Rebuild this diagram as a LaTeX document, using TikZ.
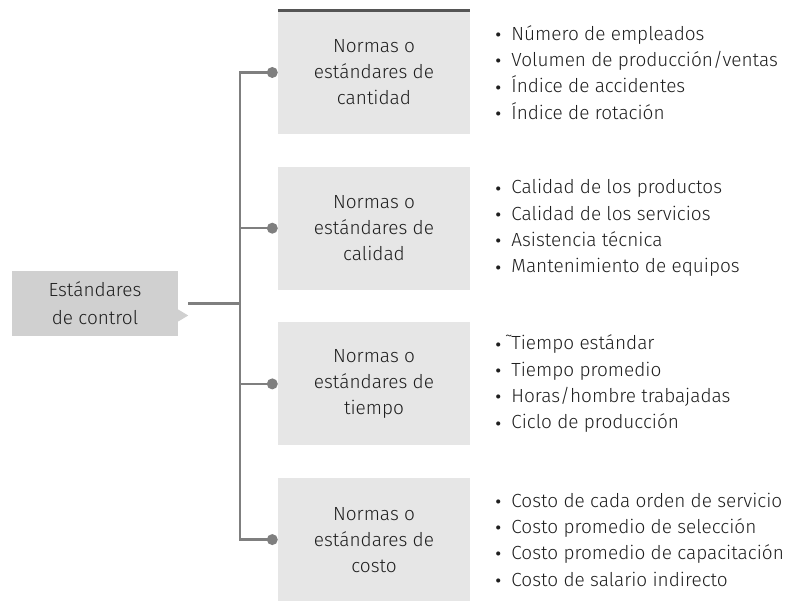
\documentclass[tikz,border=0pt]{standalone}
\usepackage{fontspec}
\setmainfont{Fira Sans Light}
\usetikzlibrary{positioning}
\definecolor{boxgray}{HTML}{E6E6E6}
\definecolor{maingray}{HTML}{D0D0D0}
\definecolor{linegray}{HTML}{7F7F7F}
\definecolor{topgray}{HTML}{555555}
\definecolor{textgray}{HTML}{1E1E1E}
\newcommand{\bul}{\smash{\raisebox{-0.42ex}{\scalebox{1.45}{•}}}}
\newcommand{\itm}[1]{\makebox[17pt][l]{\bul}#1}

\begin{document}
\begin{tikzpicture}[x=1pt,y=-1pt,
  every node/.style={text=textgray},
  normbox/.style={fill=boxgray,minimum width=192pt,minimum height=123pt,
    inner sep=0pt,align=center,font=\fontsize{19}{26}\selectfont},
  mainbox/.style={fill=maingray,minimum width=166pt,minimum height=65pt,
    inner sep=0pt,align=center,font=\fontsize{19}{28}\selectfont},
  itemlist/.style={anchor=west,inner sep=0pt,align=left,
    font=\fontsize{19}{26.3}\selectfont},
  conn/.style={linegray,line width=2.2pt},
  knob/.style={fill=linegray}]
  \useasboundingbox (0,0) rectangle (788,601);

  % main box with its small pointer
  \node[mainbox] (ctrl) at (95,303.5) {Estándares\\de control};
  \fill[maingray] ([yshift=-6]ctrl.east) -- ++(10,6) -- ++(-10,6) -- cycle;
  \coordinate (tip) at ([xshift=10]ctrl.east);

  % the four kinds of standards
  \node[normbox] (cant) at (374,72.5) {Normas o\\estándares de\\cantidad};
  \node[normbox,below=32.3pt of cant] (cali) {Normas o\\estándares de\\calidad};
  \node[normbox,below=32.3pt of cali] (tiem) {Normas o\\estándares de\\tiempo};
  \node[normbox,below=32.3pt of tiem] (cost) {Normas o\\estándares de\\costo};
  \draw[topgray,line width=3pt] (cant.north west) -- (cant.north east);
  \draw[linegray!70,line width=1.2pt] (cost.south west) -- (cost.south east);

  % connectors
  \coordinate (trunk) at (240,303.5);
  \draw[conn] (tip) -- (trunk);
  \foreach \b in {cant,cali,tiem,cost}{
    \coordinate (\b-in) at ([xshift=-5.5]\b.west);
    \draw[conn] (trunk) |- (\b-in);
    \fill[knob] (\b-in) circle[radius=5.5pt];
  }

  % indicators
  \node[itemlist,right=24pt of cant] (lcant) {\itm{Número de empleados}\\
    \itm{Volumen de producción/ventas}\\\itm{Índice de accidentes}\\
    \itm{Índice de rotación}};
  \node[itemlist,right=24pt of cali] (lcali) {\itm{Calidad de los productos}\\
    \itm{Calidad de los servicios}\\\itm{Asistencia técnica}\\
    \itm{Mantenimiento de equipos}};
  \node[itemlist,right=24pt of tiem] (ltiem) {\makebox[17pt][l]{\bul\,˜}Tiempo estándar\\
    \itm{Tiempo promedio}\\\itm{Horas/hombre trabajadas}\\
    \itm{Ciclo de producción}};
  \node[itemlist,right=24pt of cost] (lcost) {\itm{Costo de cada orden de servicio}\\
    \itm{Costo promedio de selección}\\\itm{Costo promedio de capacitación}\\
    \itm{Costo de salario indirecto}};
\end{tikzpicture}
\end{document}
